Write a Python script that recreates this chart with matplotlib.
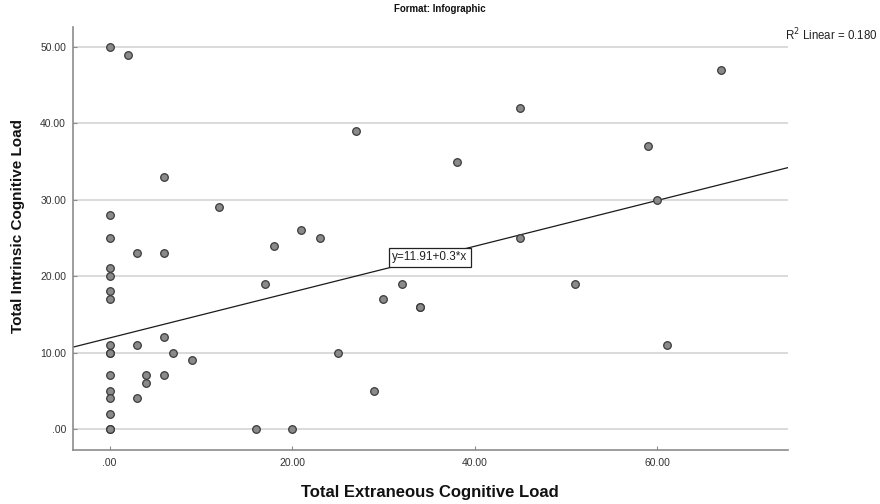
import matplotlib
matplotlib.use("Agg")
import matplotlib.pyplot as plt
import numpy as np

plt.rcParams['font.family'] = ['Liberation Sans', 'DejaVu Sans']

# Total Extraneous Cognitive Load
extraneous = [0, 0, 0, 0, 0, 0, 0, 0, 0, 0, 0, 0, 0, 0, 0, 0,
              2, 3, 3, 3, 4, 4, 6, 6, 6, 6, 7, 9, 12, 16, 17, 18, 20, 21,
              23, 25, 27, 29, 30, 32, 34, 34, 38, 45, 45, 51, 59, 60, 61, 67]
# Total Intrinsic Cognitive Load
intrinsic = [50, 28, 25, 21, 20, 18, 17, 11, 10, 10, 7, 5, 4, 2, 0, 0,
             49, 23, 11, 4, 7, 6, 33, 23, 12, 7, 10, 9, 29, 0, 19, 24, 0, 26,
             25, 10, 39, 5, 17, 19, 16, 16, 35, 42, 25, 19, 37, 30, 11, 47]

intercept = 11.91
slope = 0.3
r_squared = 0.180

x_ticks = [0, 20, 40, 60]
x_tick_labels = [".00", "20.00", "40.00", "60.00"]
y_ticks = [0, 10, 20, 30, 40, 50]
y_tick_labels = [".00", "10.00", "20.00", "30.00", "40.00", "50.00"]

W, H = 880, 504
fig = plt.figure(figsize=(W / 100, H / 100), dpi=100)
ax = fig.add_axes([73 / W, 1 - 450 / H, (788 - 73) / W, (450 - 27) / H])

xmin, xmax = -4.0, 74.3
ymin, ymax = -2.75, 52.6
ax.set_xlim(xmin, xmax)
ax.set_ylim(ymin, ymax)

for yv in y_ticks:
    ax.axhline(yv, color='#d4d4d4', lw=1.2, zorder=0)

ax.scatter(extraneous, intrinsic, s=30, facecolor='#8a8a8a', edgecolor='#3a3a3a',
           linewidths=0.9, zorder=3)

# fit line across the full x range
xs = np.array([xmin, xmax])
ax.plot(xs, intercept + slope * xs, color='#1a1a1a', lw=0.9, zorder=2)

# equation label sitting on the line
ex = 35.1
ax.text(ex, intercept + slope * ex, f"y={intercept}+{slope}*x", fontsize=8.5,
        ha='center', va='center', color='#222222', zorder=5,
        bbox=dict(boxstyle='square,pad=0.3', facecolor='white', edgecolor='#222222', lw=0.9))

ax.set_xticks(x_ticks)
ax.set_xticklabels(x_tick_labels)
ax.set_yticks(y_ticks)
ax.set_yticklabels(y_tick_labels)
ax.tick_params(axis='both', direction='in', length=3, width=0.8, color='#8c8c8c',
               labelsize=7.5, labelcolor='#333333')
ax.tick_params(axis='x', pad=6)
ax.tick_params(axis='y', pad=5)

for side in ['top', 'right']:
    ax.spines[side].set_visible(False)
for side in ['left', 'bottom']:
    ax.spines[side].set_color('#8c8c8c')
    ax.spines[side].set_linewidth(1.2)

fig.text(430 / W, 1 - 493 / H, "Total Extraneous Cognitive Load", ha='center',
         va='center', fontsize=12, fontweight='bold', color='#111111')
fig.text(18 / W, 1 - 226 / H, "Total Intrinsic Cognitive Load", ha='center',
         va='center', rotation=90, fontsize=11, fontweight='bold', color='#111111')

fig.text(0.5, 1 - 9 / H, "Format: Infographic", ha='center', va='center',
         fontsize=7, fontweight='bold', color='#111111')
fig.text(785 / W, 1 - 35 / H, f"R$^2$ Linear = {r_squared:.3f}", ha='left',
         va='center', fontsize=8.3, color='#222222')

fig.savefig("out.png", dpi=100)
